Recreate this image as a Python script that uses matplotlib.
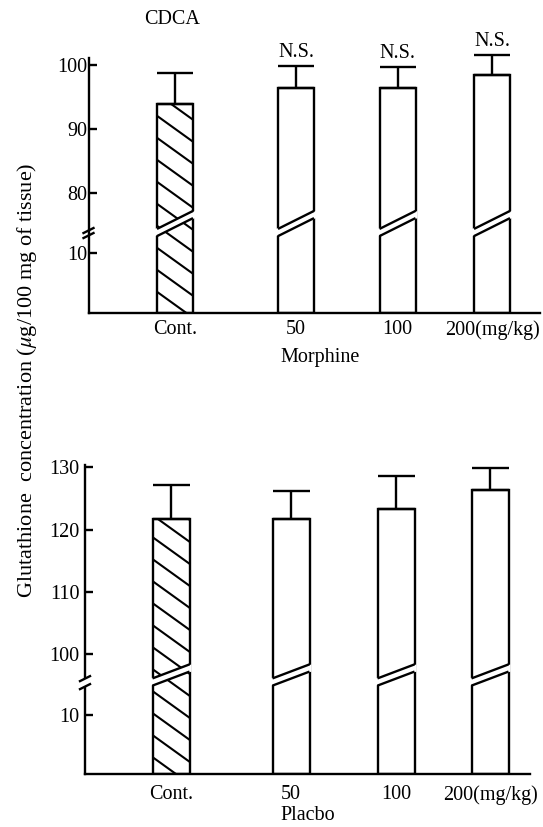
import numpy as np
import matplotlib
matplotlib.use("Agg")
import matplotlib.pyplot as plt
from matplotlib.patches import Polygon, Rectangle
from matplotlib.collections import LineCollection
import matplotlib.transforms as mtransforms

# ---------------- data ----------------
categories = ["Cont.", "50", "100", "200(mg/kg)"]
cdca_means = [93.9, 96.4, 96.4, 98.4]
cdca_err = [4.9, 3.5, 3.3, 3.2]
cdca_sig = ["", "N.S.", "N.S.", "N.S."]
cdca_ticks = [10, 80, 90, 100]

placebo_means = [121.7, 121.7, 123.4, 126.4]
placebo_err = [5.5, 4.5, 5.3, 3.5]
placebo_ticks = [10, 100, 110, 120, 130]

# ---------------- layout ----------------
W_PX, H_PX = 543, 827
plt.rcParams["font.family"] = ["Liberation Serif", "DejaVu Serif"]
plt.rcParams["mathtext.fontset"] = "stix"
FS = 14.5
LW = 1.7

fig = plt.figure(figsize=(W_PX / 100, H_PX / 100), dpi=100)


def make_scale(lo_break, hi_break, lo_slope, hi_slope):
    base = lo_slope * lo_break
    xp = np.array([-1e4, 0.0, lo_break, hi_break, 1e4])
    fp = np.array([-1e4 * lo_slope, 0.0, base, base + 1e-3,
                   base + 1e-3 + hi_slope * (1e4 - hi_break)])

    def fwd(v):
        return np.interp(v, xp, fp)

    def inv(y):
        return np.interp(y, fp, xp)

    return fwd, inv


def panel(rect_px, xpos, bw, means, errs, ticks, ymax, brk, slopes,
          xlabel, xlabel_pos, sig=None, cut_rise_px=18, spine_gap=False,
          ypad=1.0, xpad=5.0):
    left, top, right, bottom = rect_px
    ax = fig.add_axes([left / W_PX, 1 - bottom / H_PX,
                       (right - left) / W_PX, (bottom - top) / H_PX])
    ax_w, ax_h = right - left, bottom - top
    fwd, inv = make_scale(brk[0], brk[1], slopes[0], slopes[1])
    ax.set_yscale("function", functions=(fwd, inv))
    ax.set_ylim(0, ymax)
    ax.set_xlim(left, right)

    bars = ax.bar(xpos, means, width=bw, color="white", edgecolor="black",
                  linewidth=LW, zorder=2)

    # hatch for control bar (diagonal lines, top-left to bottom-right)
    slope_ax = 0.72 * ax_w / ax_h
    step = 22.0 / ax_h
    segs = []
    for c in np.arange(-0.5, 2.5, step):
        segs.append([(0.0, c), (1.0, c - slope_ax)])
    lc = LineCollection(segs, colors="black", linewidths=1.5,
                        transform=ax.transAxes, zorder=2.5)
    ax.add_collection(lc)
    lc.set_clip_path(bars[0])

    # error bars (upper only)
    eb = ax.errorbar(xpos, means, yerr=[np.zeros(len(means)), errs],
                     fmt="none", ecolor="black", elinewidth=LW,
                     capsize=bw / 2 * 0.72, capthick=LW, zorder=3)
    for a in list(eb[1]) + list(eb[2]):
        a.set_clip_on(False)

    if sig:
        for x, m, e, s in zip(xpos, means, errs, sig):
            if s:
                ax.annotate(s, (x, m + e), xytext=(0, 3),
                            textcoords="offset points", ha="center",
                            va="bottom", fontsize=FS, annotation_clip=False)

    # break position (axes fraction)
    fb = float((fwd(brk[0]) - fwd(0)) / (fwd(ymax) - fwd(0)))
    rise = cut_rise_px / ax_h
    half = 3.6 / ax_h
    blend = mtransforms.blended_transform_factory(ax.transData, ax.transAxes)
    for x in xpos:
        x0, x1 = x - bw / 2, x + bw / 2
        yl, yr = fb + 0.002, fb + 0.002 + rise
        ax.add_patch(Polygon([(x0 - 2, yl - half), (x1 + 2, yr - half),
                              (x1 + 2, yr + half), (x0 - 2, yl + half)],
                             closed=True, facecolor="white", edgecolor="none",
                             transform=blend, zorder=4))
        ax.plot([x0, x1], [yl - half, yr - half], color="black", lw=LW,
                transform=blend, zorder=5, solid_capstyle="butt")
        ax.plot([x0, x1], [yl + half, yr + half], color="black", lw=LW,
                transform=blend, zorder=5, solid_capstyle="butt")

    # axis break marks on the y axis
    dx = 5 / ax_w
    if spine_gap:
        ax.add_patch(Rectangle((-0.01, fb - 4 / ax_h), 0.02, 8 / ax_h,
                               transform=ax.transAxes, facecolor="white",
                               edgecolor="none", zorder=6, clip_on=False))
        for off in (-4, 4):
            ax.plot([-dx, dx], [fb + (off - 2.5) / ax_h,
                                fb + (off + 2.5) / ax_h],
                    color="black", lw=LW, transform=ax.transAxes, zorder=7,
                    clip_on=False)
    else:
        for off in (-2.5, 2.5):
            ax.plot([-dx, dx], [fb + (off - 2.5) / ax_h,
                                fb + (off + 2.5) / ax_h],
                    color="black", lw=LW, transform=ax.transAxes, zorder=7,
                    clip_on=False)

    for s in ("top", "right"):
        ax.spines[s].set_visible(False)
    for s in ("left", "bottom"):
        ax.spines[s].set_linewidth(LW)

    ax.set_yticks(ticks)
    ax.set_yticklabels([str(t) for t in ticks])
    ax.tick_params(axis="y", direction="in", length=6, width=LW, pad=ypad,
                   labelsize=FS)
    ax.set_xticks(xpos)
    ax.set_xticklabels(categories)
    ax.tick_params(axis="x", length=0, pad=xpad, labelsize=FS)
    ax.set_xlabel(xlabel, fontsize=FS)
    ax.xaxis.set_label_coords(*xlabel_pos)
    return ax


top_pos = [175, 296, 397.5, 492]
panel((88.5, 58, 540, 313), top_pos, 36, cdca_means, cdca_err, cdca_ticks,
      ymax=101.1, brk=(13.33, 73.75), slopes=(6.0, 6.4),
      xlabel="Morphine", xlabel_pos=(0.512, -0.137), sig=cdca_sig,
      cut_rise_px=18, ypad=1.0, xpad=5.0)

bot_pos = [171, 291, 396, 490]
panel((85, 465, 530, 774), bot_pos, 37, placebo_means, placebo_err,
      placebo_ticks, ymax=130.4, brk=(15.6, 95.4), slopes=(5.86, 6.22),
      xlabel="Placbo", xlabel_pos=(0.5, -0.105), cut_rise_px=14,
      spine_gap=True, ypad=4.0, xpad=8.0)

fig.text(172 / W_PX, 1 - 19 / H_PX, "CDCA", ha="center", va="center",
         fontsize=FS)
fig.text(27 / W_PX, 1 - 380 / H_PX,
         "Glutathione  concentration ($\\mu$g/100 mg of tissue)",
         rotation=90, ha="center", va="center", fontsize=16)

fig.savefig("out.png", dpi=100)
